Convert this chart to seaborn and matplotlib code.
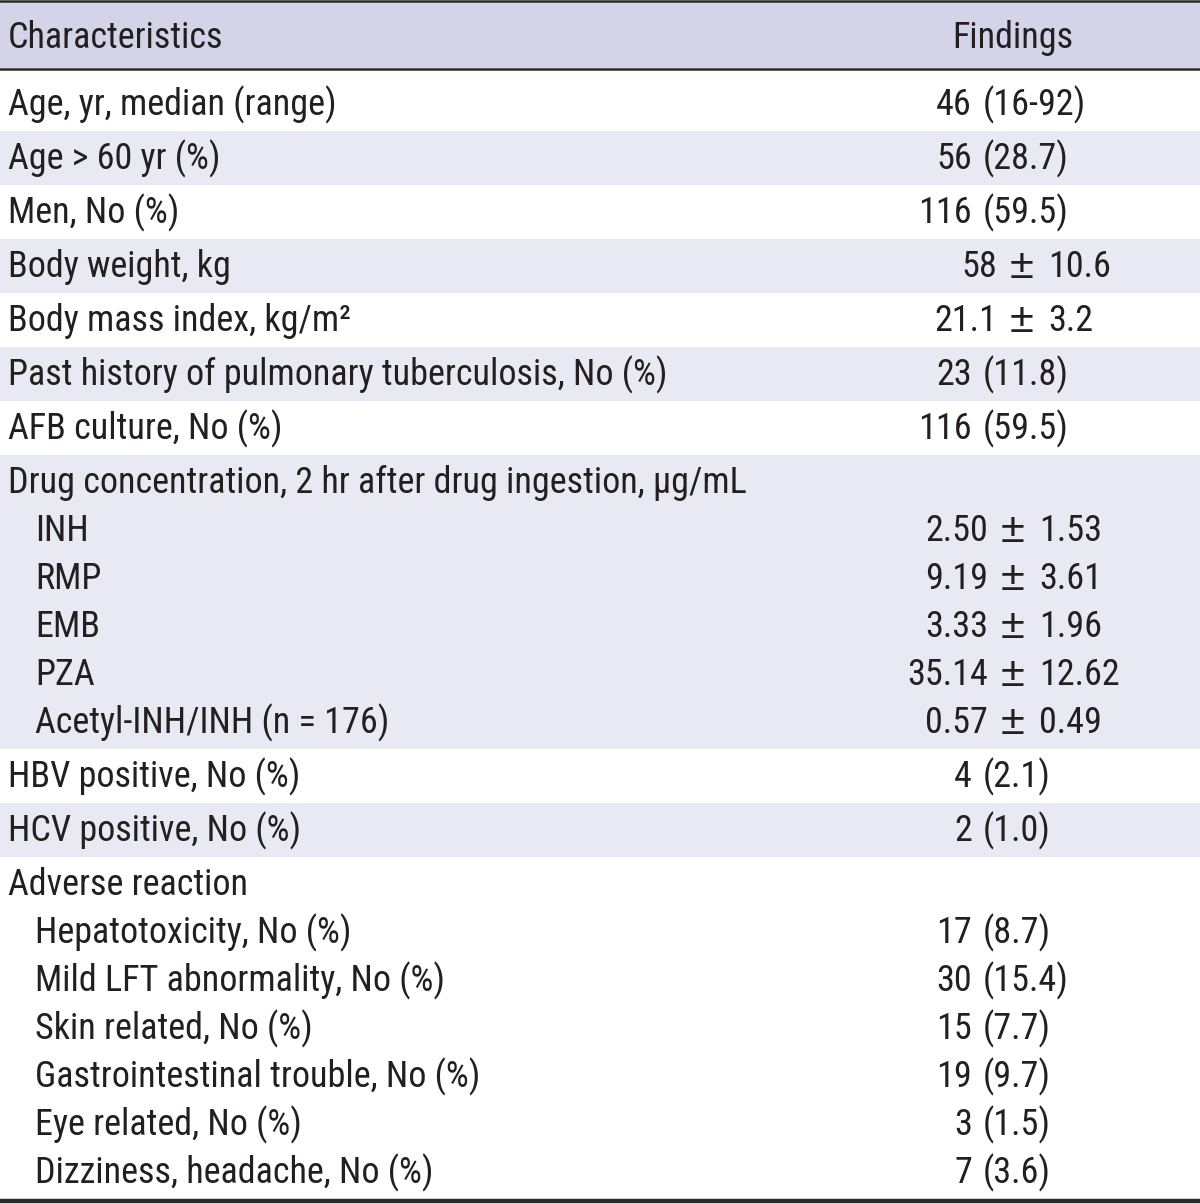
import matplotlib
matplotlib.use("Agg")
import matplotlib.pyplot as plt
import seaborn as sns

# Table content
header = ["Characteristics", "Findings"]

characteristics = [
    "Age, yr, median (range)",
    "Age > 60 yr (%)",
    "Men, No (%)",
    "Body weight, kg",
    "Body mass index, kg/m²",
    "Past history of pulmonary tuberculosis, No (%)",
    "AFB culture, No (%)",
    "Drug concentration, 2 hr after drug ingestion, μg/mL",
    "INH",
    "RMP",
    "EMB",
    "PZA",
    "Acetyl-INH/INH (n = 176)",
    "HBV positive, No (%)",
    "HCV positive, No (%)",
    "Adverse reaction",
    "Hepatotoxicity, No (%)",
    "Mild LFT abnormality, No (%)",
    "Skin related, No (%)",
    "Gastrointestinal trouble, No (%)",
    "Eye related, No (%)",
    "Dizziness, headache, No (%)",
]

findings = [
    "46 (16-92)",
    "56 (28.7)",
    "116 (59.5)",
    "58 ± 10.6",
    "21.1 ± 3.2",
    "23 (11.8)",
    "116 (59.5)",
    "",
    "2.50 ± 1.53",
    "9.19 ± 3.61",
    "3.33 ± 1.96",
    "35.14 ± 12.62",
    "0.57 ± 0.49",
    "4 (2.1)",
    "2 (1.0)",
    "",
    "17 (8.7)",
    "30 (15.4)",
    "15 (7.7)",
    "19 (9.7)",
    "3 (1.5)",
    "7 (3.6)",
]

# sub-items are indented and belong to the block above them
is_sub = [False] * 8 + [True] * 5 + [False] * 3 + [True] * 6

# Style
sns.set_theme(style="white")
plt.rcParams["font.family"] = ["Roboto Condensed", "DejaVu Sans"]
plt.rcParams["font.weight"] = "normal"

HEADER_BG = "#d4d4e8"
SHADE_BG = "#e9e9f3"
LINE = "#2a2a2a"
TXT = "#231f20"
FS = 26

fig = plt.figure(figsize=(12, 12.04), dpi=100)
ax = fig.add_axes([0, 0, 1, 1])
ax.set_xlim(0, 1200)
ax.set_ylim(1204, 0)
ax.axis("off")

# Layout of rows (pixels)
main_h = 54
sub_h = 48
top = 77
blocks = []  # [top, bottom]
baselines = []
for sub in is_sub:
    if not sub:
        if blocks:
            blocks[-1][1] = top
        blocks.append([top, None])
        baselines.append(top + 38)
        top += main_h
    else:
        baselines.append(baselines[-1] + sub_h)
        top += sub_h
blocks[-1][1] = top

# shading
ax.axhspan(2, 68, color=HEADER_BG, lw=0)
for k, (b0, b1) in enumerate(blocks):
    if k % 2 == 1:
        ax.axhspan(b0, b1, color=SHADE_BG, lw=0)

# rules
ax.axhline(1.2, color=LINE, lw=1.8)
ax.axhline(68.5, color=LINE, lw=1.8)
ax.axhline(blocks[-1][1] + 2, color=LINE, lw=3.2)


def put(x, y, s, ha, size=FS, **kw):
    ax.text(x, y, s, fontsize=size, color=TXT, ha=ha, va="baseline", **kw)


# header
put(8, 48, header[0], "left")
put(1013, 48, header[1], "center")

# body
for label, val, sub, yb in zip(characteristics, findings, is_sub, baselines):
    put(35 if sub else 8, yb, label, "left")
    if not val:
        continue
    if "±" in val:
        left, right = [p.strip() for p in val.split("±")]
        anchor = 1013 if sub else 1022
        put(anchor - 25, yb, left, "right")
        put(anchor, yb + 1, "±", "center", size=FS * 1.2,
            family=["Liberation Sans", "DejaVu Sans"], fontweight="light")
        put(anchor + 26, yb, right, "left")
    else:
        left, right = val.split(" ", 1)
        put(972, yb, left, "right")
        put(983, yb, right, "left")

fig.savefig("out.png", dpi=100)
